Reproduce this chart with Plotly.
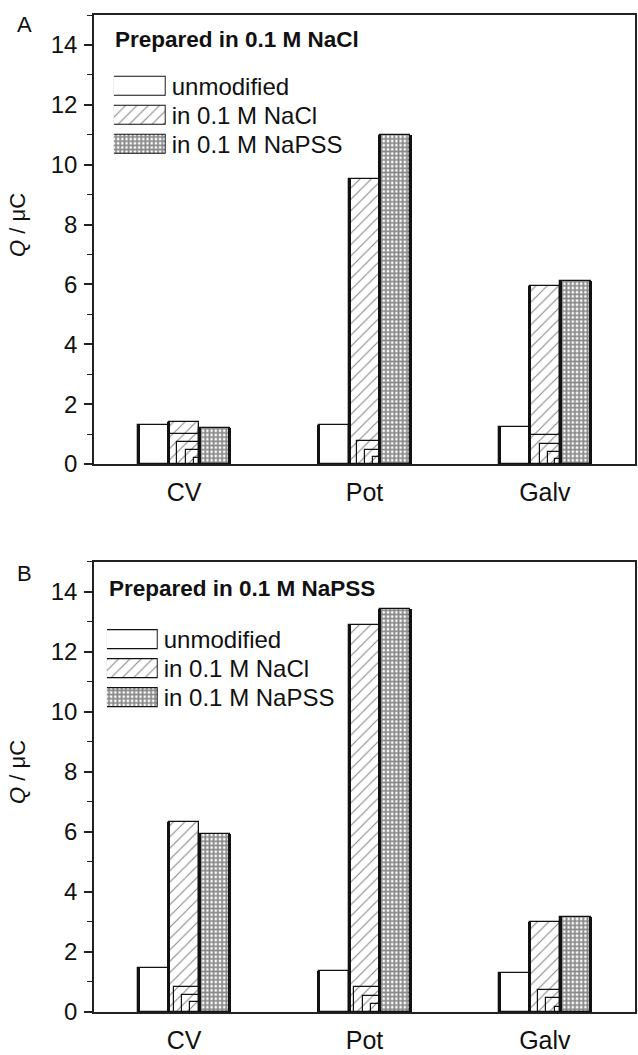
import plotly.graph_objects as go

# ---------------- data ----------------
categories = ["CV", "Pot", "Galv"]
series_names = ["unmodified", "in 0.1 M NaCl", "in 0.1 M NaPSS"]

a_unmod = [1.30, 1.32, 1.24]
a_nacl = [1.40, 9.53, 5.94]
a_napss = [1.20, 10.98, 6.10]

b_unmod = [1.46, 1.38, 1.30]
b_nacl = [6.33, 12.90, 3.00]
b_napss = [5.95, 13.43, 3.18]

# small nested square outlines seen at the foot of the NaCl bars
a_sq_cat = ["CV", "CV", "CV", "CV", "Pot", "Pot", "Pot", "Galv", "Galv", "Galv", "Galv"]
a_sq_val = [1.01, 0.74, 0.46, 0.19, 0.77, 0.48, 0.22, 0.98, 0.68, 0.41, 0.16]
b_sq_cat = ["CV", "CV", "CV", "Pot", "Pot", "Pot", "Galv", "Galv", "Galv"]
b_sq_val = [0.85, 0.57, 0.32, 0.85, 0.55, 0.28, 0.74, 0.46, 0.17]

legend_len = [1, 1, 1]
y_tickvals = [0, 2, 4, 6, 8, 10, 12, 14]
panel_titles = ["Prepared in 0.1 M NaCl", "Prepared in 0.1 M NaPSS"]
panel_letters = ["A", "B"]
y_title = "<i>Q</i> / \u03bcC"

# ---------------- geometry / style ----------------
W, H = 638, 1055
ML, MR, MT, MB = 94, 1, 15, 32
PW, PH = W - ML - MR, H - MT - MB
FONT = "Liberation Sans, Arial, sans-serif"
INK = "#111111"


def py(px):
    return 1 - (px - MT) / PH


def pxx(px):
    return (px - ML) / PW


domA = [py(469), 1.0]
domB = [0.0, py(568)]
YR = [0, 15]
XR = [-0.5, 2.5]
BW = 0.169  # bar width in category units
PXX = PW / (XR[1] - XR[0])
EDGE = 3.0 / PXX  # thick left edge of each bar

pat_hatch = dict(shape="/", size=8, solidity=0.14, fgcolor=INK, bgcolor="white")
pat_cross = dict(shape="+", size=4.2, solidity=0.68, fgcolor=INK, bgcolor="white")
line = dict(color=INK, width=1.3)

fig = go.Figure()


def edge(xa, ya, vals, off):
    fig.add_trace(go.Bar(x=categories, y=vals, width=EDGE, offset=off,
                         marker=dict(color=INK, line=dict(width=0)),
                         xaxis=xa, yaxis=ya, showlegend=False, hoverinfo="skip"))


def add_panel(xa, ya, dom, unmod, nacl, napss, sq_cat, sq_val):
    fig.add_trace(go.Bar(x=categories, y=unmod, width=BW, offset=-1.5 * BW,
                         marker=dict(color="white", line=line),
                         xaxis=xa, yaxis=ya, showlegend=False, name=series_names[0]))
    fig.add_trace(go.Bar(x=categories, y=nacl, width=BW, offset=-0.5 * BW,
                         marker=dict(color="white", pattern=pat_hatch, line=line),
                         xaxis=xa, yaxis=ya, showlegend=False, name=series_names[1]))
    # squares: side in pixels equal on both axes
    px_per_y = (dom[1] - dom[0]) * PH / (YR[1] - YR[0])
    widths = [v * px_per_y / PXX for v in sq_val]
    offsets = [0.5 * BW - w for w in widths]
    fig.add_trace(go.Bar(x=sq_cat, y=sq_val, width=widths, offset=offsets,
                         marker=dict(color="white", pattern=pat_hatch,
                                     line=dict(color=INK, width=1.2)),
                         xaxis=xa, yaxis=ya, showlegend=False, hoverinfo="skip"))
    fig.add_trace(go.Bar(x=categories, y=napss, width=BW, offset=0.5 * BW,
                         marker=dict(color="white", pattern=pat_cross, line=line),
                         xaxis=xa, yaxis=ya, showlegend=False, name=series_names[2]))
    edge(xa, ya, unmod, -1.5 * BW - EDGE / 2)
    edge(xa, ya, nacl, -0.5 * BW - EDGE / 2)
    edge(xa, ya, napss, 0.5 * BW - EDGE / 2)
    edge(xa, ya, napss, 1.5 * BW - EDGE / 2)


add_panel("x", "y", domA, a_unmod, a_nacl, a_napss, a_sq_cat, a_sq_val)
add_panel("x2", "y2", domB, b_unmod, b_nacl, b_napss, b_sq_cat, b_sq_val)

# legend swatches drawn as short horizontal bars on tiny axes
legend_pats = [None, pat_hatch, pat_cross]


def add_legend(xa, ya):
    for name, pat, L in zip(series_names, legend_pats, legend_len):
        mk = dict(color="white", line=dict(color=INK, width=1.2))
        if pat is not None:
            mk["pattern"] = pat
        fig.add_trace(go.Bar(x=[L], y=[name], orientation="h", width=0.66,
                             marker=mk, xaxis=xa, yaxis=ya, showlegend=False,
                             hoverinfo="skip"))


add_legend("x3", "y3")
add_legend("x4", "y4")

axis_common = dict(showline=True, linecolor="#222222", linewidth=1.5, mirror=True,
                   showgrid=False, zeroline=False)
xcommon = dict(axis_common, type="category", categoryorder="array",
               categoryarray=categories, range=XR, ticks="outside", ticklen=5,
               tickcolor="rgba(0,0,0,0)",
               tickfont=dict(family=FONT, size=25, color=INK))
ycommon = dict(axis_common, range=YR, tickvals=y_tickvals, ticks="outside",
               ticklen=8, tickwidth=1.5, tickcolor="#222222",
               minor=dict(dtick=1, tick0=0, ticks="outside", ticklen=5,
                          tickwidth=1.2, tickcolor="#222222"),
               tickfont=dict(family=FONT, size=24, color=INK), ticklabelstandoff=2)

leg_x = dict(range=[0, 1], visible=False, fixedrange=True)
leg_y = dict(type="category", autorange="reversed", side="right", ticks="",
             tickmode="array", tickvals=series_names, ticktext=series_names,
             showline=False, showgrid=False, zeroline=False,
             tickfont=dict(family=FONT, size=24, color=INK), ticklabelstandoff=5)

fig.update_layout(
    width=W, height=H,
    margin=dict(l=ML, r=MR, t=MT, b=MB),
    paper_bgcolor="white", plot_bgcolor="white",
    barmode="overlay", bargap=0,
    showlegend=False,
    font=dict(family=FONT, color=INK),
    xaxis=dict(xcommon, domain=[0, 1], anchor="y"),
    yaxis=dict(ycommon, domain=domA, anchor="x"),
    xaxis2=dict(xcommon, domain=[0, 1], anchor="y2"),
    yaxis2=dict(ycommon, domain=domB, anchor="x2"),
    xaxis3=dict(leg_x, domain=[pxx(114), pxx(166)], anchor="y3"),
    yaxis3=dict(leg_y, domain=[py(160.5), py(72.5)], anchor="x3"),
    xaxis4=dict(leg_x, domain=[pxx(107), pxx(158)], anchor="y4"),
    yaxis4=dict(leg_y, domain=[py(720), py(632)], anchor="x4"),
)

ann = []
for title, letter, tx, ty, ly, qy in [
    (panel_titles[0], panel_letters[0], 113, 40, 25, 227),
    (panel_titles[1], panel_letters[1], 107, 595, 580, 780),
]:
    ann.append(dict(text="<b>%s</b>" % title, x=pxx(tx), y=py(ty), xref="paper", yref="paper",
                    xanchor="left", yanchor="middle", showarrow=False,
                    font=dict(family=FONT, size=22.5, color=INK)))
    ann.append(dict(text=letter, x=pxx(24), y=py(ly), xref="paper", yref="paper",
                    xanchor="center", yanchor="middle", showarrow=False,
                    font=dict(family=FONT, size=22, color=INK)))
    ann.append(dict(text=y_title, x=pxx(17), y=py(qy), xref="paper", yref="paper",
                    xanchor="center", yanchor="middle", textangle=-90, showarrow=False,
                    font=dict(family=FONT, size=22, color=INK)))
fig.update_layout(annotations=ann)

fig.write_html("out.html", config={"displayModeBar": False},
               post_script="document.body.style.margin='0';document.body.style.padding='0';"
                           "document.documentElement.style.overflow='hidden';")
